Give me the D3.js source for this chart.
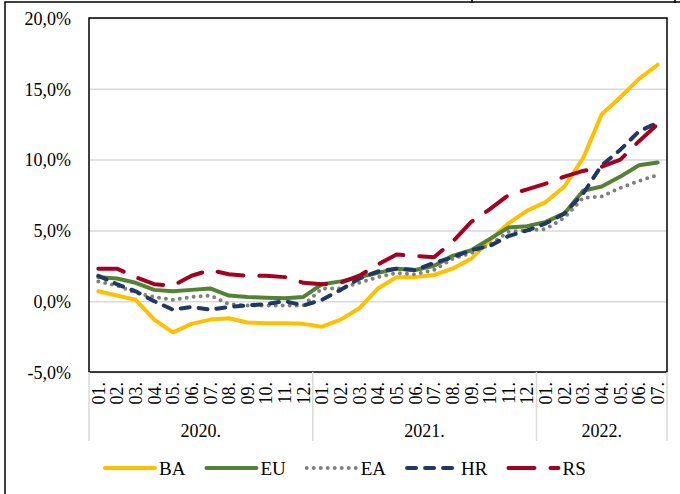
<!DOCTYPE html>
<html>
<head>
<meta charset="utf-8">
<script src="https://cdn.jsdelivr.net/npm/d3@7"></script>
<style>
  body { margin: 0; background: #fff; }
  svg { display: block; }
</style>
</head>
<body>
<div id="chart"></div>
<script>
// month tick labels, 2020.01 - 2022.07
const monthLabels = [
    "01.", "02.", "03.", "04.", "05.", "06.", "07.", "08.", "09.", "10.", "11.", "12.",
    "01.", "02.", "03.", "04.", "05.", "06.", "07.", "08.", "09.", "10.", "11.", "12.",
    "01.", "02.", "03.", "04.", "05.", "06.", "07."
];
const yearLabels = ["2020.", "2021.", "2022."];
const yearSpans = [12, 12, 7];
const yTicks = [-5, 0, 5, 10, 15, 20];

// yearly inflation, %
const BA = [0.7, 0.4, 0.1, -1.3, -2.2, -1.6, -1.3, -1.2, -1.5, -1.55, -1.55, -1.6,
            -1.8, -1.3, -0.5, 0.9, 1.7, 1.7, 1.85, 2.3, 3.0, 4.3, 5.5, 6.4,
            7.0, 8.1, 10.1, 13.2, 14.4, 15.7, 16.7];
const EU = [1.7, 1.6, 1.3, 0.8, 0.7, 0.8, 0.9, 0.4, 0.3, 0.25, 0.2, 0.3,
            1.2, 1.4, 1.7, 2.0, 2.3, 2.2, 2.5, 3.2, 3.6, 4.4, 5.2, 5.3,
            5.6, 6.2, 7.8, 8.1, 8.8, 9.6, 9.8];
const EA = [1.4, 1.1, 0.6, 0.3, 0.1, 0.3, 0.4, -0.2, -0.3, -0.3, -0.3, -0.3,
            0.9, 0.9, 1.3, 1.7, 2.0, 1.9, 2.2, 3.0, 3.4, 4.0, 4.9, 5.0,
            5.1, 5.9, 7.3, 7.4, 8.0, 8.5, 8.9];
const HR = [1.8, 1.2, 0.7, 0.0, -0.6, -0.4, -0.6, -0.4, -0.3, -0.2, 0.0, -0.3,
            0.1, 0.8, 1.6, 2.1, 2.3, 2.2, 2.7, 3.1, 3.6, 3.9, 4.6, 5.0,
            5.5, 6.2, 7.6, 9.6, 10.7, 12.0, 12.6];
const RS = [2.3, 2.3, 1.7, 1.2, 1.1, 1.8, 2.2, 1.9, 1.8, 1.8, 1.7, 1.3,
            1.2, 1.3, 1.8, 2.6, 3.3, 3.2, 3.1, 4.2, 5.6, 6.5, 7.5, 7.9,
            8.3, 8.8, 9.2, 9.5, 10.0, 11.3, 12.5];

const series = [
    { name: "BA", values: BA, color: "#FFC000", dash: null, cap: "round" },
    { name: "EU", values: EU, color: "#548235", dash: null, cap: "round" },
    { name: "EA", values: EA, color: "#7F7F7F", dash: "0,7", cap: "round" },
    { name: "HR", values: HR, color: "#1F3864", dash: "9,9", cap: "round" },
    { name: "RS", values: RS, color: "#A50021", dash: "26,16", cap: "round" }
];

const width = 680, height = 494;
const plot = { left: 89, right: 667, top: 18, bottom: 372 };
const font = "'Liberation Serif', 'Times New Roman', serif";

const svg = d3.select("#chart")
    .append("svg")
    .attr("width", width)
    .attr("height", height)
    .style("font-family", font);

// outer frame (left and top edges visible)
svg.append("path")
    .attr("d", `M5,${height}V2H${width}`)
    .attr("fill", "none")
    .attr("stroke", "#000")
    .attr("stroke-width", 1.5);
svg.selectAll(".topTick")
    .data([472, 675])
    .enter().append("line")
    .attr("x1", d => d).attr("x2", d => d)
    .attr("y1", 0).attr("y2", 3)
    .attr("stroke", "#000")
    .attr("stroke-width", 1.5);

const x = d3.scaleBand()
    .domain(d3.range(monthLabels.length))
    .range([plot.left, plot.right]);

const y = d3.scaleLinear()
    .domain([-5, 20])
    .range([plot.bottom, plot.top]);

const fmt = d => d3.format(".1f")(d).replace(".", ",").replace("\u2212", "-") + "%";

// grid lines
svg.append("g")
    .attr("transform", `translate(${plot.left},0)`)
    .call(d3.axisLeft(y).tickValues(yTicks).tickSize(-(plot.right - plot.left)).tickFormat(""))
    .call(g => g.select(".domain").remove())
    .call(g => g.selectAll("line").attr("stroke", "#D9D9D9").attr("stroke-width", 1.5));

// y labels
svg.append("g")
    .attr("transform", `translate(${plot.left},0)`)
    .call(d3.axisLeft(y).tickValues(yTicks).tickSize(0).tickPadding(18).tickFormat(fmt))
    .call(g => g.select(".domain").remove())
    .call(g => g.attr("font-family", font).attr("font-size", 18))
    .selectAll("text")
    .attr("fill", "#000")
    .attr("dy", "0.35em");

// plot border
svg.append("rect")
    .attr("x", plot.left)
    .attr("y", plot.top)
    .attr("width", plot.right - plot.left)
    .attr("height", plot.bottom - plot.top)
    .attr("fill", "none")
    .attr("stroke", "#000")
    .attr("stroke-width", 1.5);

// month labels
svg.append("g")
    .attr("transform", `translate(0,${plot.bottom})`)
    .call(d3.axisBottom(x).tickSize(0).tickFormat(i => monthLabels[i]))
    .call(g => g.select(".domain").remove())
    .call(g => g.attr("font-family", font).attr("font-size", 18))
    .selectAll("text")
    .attr("fill", "#000")
    .attr("transform", "rotate(-90)")
    .attr("text-anchor", "end")
    .attr("x", -10)
    .attr("y", 0)
    .attr("dy", "0.35em");

// year groups
let start = 0;
const groups = yearLabels.map((label, k) => {
    const g = { label, from: start, to: start + yearSpans[k] - 1 };
    start += yearSpans[k];
    return g;
});

const sepX = groups.map(g => x(g.from)).concat([plot.right]);
svg.selectAll(".sep")
    .data(sepX)
    .enter().append("line")
    .attr("class", "sep")
    .attr("x1", d => d).attr("x2", d => d)
    .attr("y1", plot.bottom).attr("y2", 441)
    .attr("stroke", "#D9D9D9")
    .attr("stroke-width", 1.5);

svg.selectAll(".year")
    .data(groups)
    .enter().append("text")
    .attr("class", "year")
    .attr("x", d => (x(d.from) + x(d.to) + x.bandwidth()) / 2)
    .attr("y", 437)
    .attr("text-anchor", "middle")
    .attr("font-size", 18)
    .text(d => d.label);

// lines
const line = d3.line()
    .x((d, i) => x(i) + x.bandwidth() / 2)
    .y(d => y(d));

svg.selectAll(".series")
    .data(series)
    .enter().append("path")
    .attr("class", "series")
    .attr("d", d => line(d.values))
    .attr("fill", "none")
    .attr("stroke", d => d.color)
    .attr("stroke-width", 4)
    .attr("stroke-linejoin", "round")
    .attr("stroke-linecap", d => d.cap)
    .attr("stroke-dasharray", d => d.dash);

// legend
const legend = svg.append("g");
let lx = 105;
const ly = 468;
series.forEach(s => {
    legend.append("line")
        .attr("x1", lx).attr("x2", lx + 50)
        .attr("y1", ly).attr("y2", ly)
        .attr("stroke", s.color)
        .attr("stroke-width", 4)
        .attr("stroke-linecap", s.cap)
        .attr("stroke-dasharray", s.dash);
    const t = legend.append("text")
        .attr("x", lx + 54)
        .attr("y", ly)
        .attr("dy", "0.35em")
        .attr("font-size", 19)
        .text(s.name);
    lx += 54 + t.node().getComputedTextLength() + 21;
});
</script>
</body>
</html>
